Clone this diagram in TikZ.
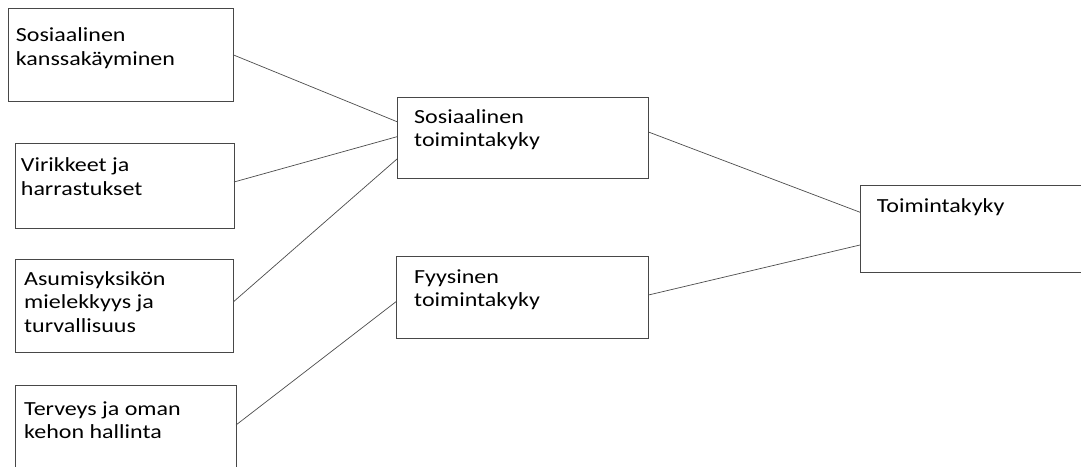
\documentclass[tikz,border=0pt]{standalone}
\usepackage{fontspec}
\setmainfont{Carlito}[FakeStretch=1.2]
\begin{document}
\begin{tikzpicture}[x=1pt,y=-1pt,
  box/.style={draw=black!72,line width=0.9pt,anchor=north west,inner sep=0pt,outer sep=0pt},
  conn/.style={draw=black!70,line width=0.7pt},
  lbl/.style={anchor=base west,inner sep=0pt,align=left,text=black,
    font=\fontsize{20}{23.5}\selectfont}]
\clip (0,0) rectangle (1081,466);
\fill[white] (0,0) rectangle (1081,466);
% boxes
\node[box,minimum width=225pt,minimum height=93.5pt] (b1) at (8,8) {};
\node[box,minimum width=218.5pt,minimum height=85.5pt] (b2) at (15.5,143) {};
\node[box,minimum width=218pt,minimum height=93.5pt] (b3) at (15.5,259) {};
\node[box,minimum width=220.5pt,minimum height=95pt] (b4) at (15.5,385) {};
\node[box,minimum width=251.5pt,minimum height=81pt] (m1) at (397,97.5) {};
\node[box,minimum width=252.5pt,minimum height=82pt] (m2) at (396,256) {};
\node[box,minimum width=240pt,minimum height=86.5pt] (r) at (860,185.5) {};
% texts (anchored at the baseline of the last line)
\node[lbl] (t1) at (15.7,65.2) {Sosiaalinen\\kanssakäyminen};
\node[lbl] (t2) at (20.7,195.2) {Virikkeet ja\\harrastukset};
\node[lbl] (t3) at (24,332) {Asumisyksikön\\mielekkyys ja\\turvallisuus};
\node[lbl] (t4) at (24,438.5) {Terveys ja oman\\kehon hallinta};
\node[lbl] (t5) at (414,146.8) {Sosiaalinen\\toimintakyky};
\node[lbl] (t6) at (414,306.8) {Fyysinen\\toimintakyky};
\node[lbl] (t7) at (876.7,212.3) {Toimintakyky};
% connectors
\draw[conn] (b1.east) -- ([yshift=16.3pt]m1.west);
\draw[conn] ([yshift=3.75pt]b2.east) -- ([yshift=1.3pt]m1.west);
\draw[conn] ([yshift=4pt]b3.east) -- ([yshift=-21pt]m1.west);
\draw[conn] ([yshift=7.5pt]b4.east) -- ([yshift=-4.7pt]m2.west);
\draw[conn] ([yshift=6pt]m1.east) -- ([yshift=16.5pt]r.west);
\draw[conn] ([yshift=2pt]m2.east) -- ([yshift=-16.25pt]r.west);
\end{tikzpicture}
\end{document}
